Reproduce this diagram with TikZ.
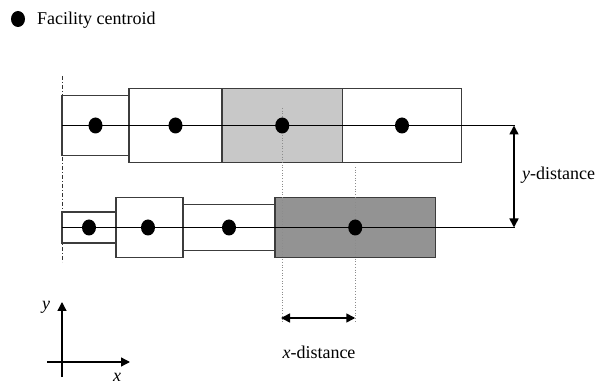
\documentclass[tikz,border=0pt]{standalone}
\usepackage{fontspec}
\setmainfont{Liberation Serif}
\usetikzlibrary{arrows.meta,shapes.geometric}
\definecolor{lightfill}{RGB}{200,200,200}
\definecolor{darkfill}{RGB}{147,147,147}
\definecolor{edge}{RGB}{60,60,60}
\begin{document}
\begin{tikzpicture}[x=1pt,y=-1pt,
  box/.style={draw=edge, line width=1.3pt, inner sep=0pt, outer sep=0pt, rectangle},
  dot/.style={ellipse, fill=black, inner sep=0pt, minimum width=14pt, minimum height=16pt},
  cline/.style={draw=black, line width=1.2pt},
  guide/.style={draw=black!45, line width=0.7pt, dotted},
  axisline/.style={dash pattern=on 4pt off 2pt on 1pt off 2pt, draw=black!80, line width=0.8pt},
  dimarrow/.style={draw=black, line width=1.6pt, {Triangle[length=9pt,width=9pt]}-{Triangle[length=9pt,width=9pt]}},
  ax/.style={draw=black, line width=1.3pt, -{Triangle[length=9pt,width=9pt]}},
  lbl/.style={font=\fontsize{18}{20}\selectfont, inner sep=0pt}
]
\useasboundingbox (0,0) rectangle (598,385);

% legend
\node[dot] (legdot) at (18,19) {};
\node[lbl, anchor=west] (legtxt) at (37,20) {Facility centroid};

% vertical reference line
\coordinate (reftop) at (62,76);
\coordinate (refbot) at (62,262);
\draw[axisline] (reftop) -- (refbot);

% top row boxes
\node[box, minimum width=67pt, minimum height=60pt] (A) at (95.5,125.5) {};
\node[box, minimum width=93pt, minimum height=74pt] (B) at (175.5,125.5) {};
\node[box, fill=lightfill, minimum width=120.5pt, minimum height=74pt] (C) at (282.25,125.5) {};
\node[box, minimum width=119pt, minimum height=74pt] (D) at (402,125.5) {};

% bottom row boxes
\node[box, minimum width=54pt, minimum height=31pt] (E) at (89,227.5) {};
\node[box, minimum width=67pt, minimum height=60pt] (F) at (149.5,227.5) {};
\node[box, minimum width=92pt, minimum height=46pt] (G) at (229,227.5) {};
\node[box, fill=darkfill, minimum width=160.5pt, minimum height=60pt] (H) at (355.25,227.5) {};

% dotted guides
\coordinate (g1top) at (282,108);
\coordinate (g1bot) at (282,322);
\coordinate (g2top) at (355.25,167);
\coordinate (g2bot) at (355.25,322);
\draw[guide] (g1top) -- (g1bot);
\draw[guide] (g2top) -- (g2bot);

% centre lines
\coordinate (topend) at (515,125.5);
\coordinate (botend) at (515,227.5);
\draw[cline] (A.west) -- (topend);
\draw[cline] (E.west) -- (botend);

% centroids
\node[dot] (dA) at (A.center) {};
\node[dot] (dB) at (B.center) {};
\node[dot] (dC) at (C.center) {};
\node[dot] (dD) at (D.center) {};
\node[dot] (dE) at (E.center) {};
\node[dot] (dF) at (148,227.5) {};
\node[dot] (dG) at (G.center) {};
\node[dot] (dH) at (H.center) {};

% y-distance
\coordinate (ya) at (514,125.5);
\coordinate (yb) at (514,227.5);
\draw[dimarrow] (ya) -- (yb);
\node[lbl, anchor=west] (ylbl) at (522,175) {\textit{y}-distance};

% x-distance
\coordinate (xa) at (281,318);
\coordinate (xb) at (355.25,318);
\draw[dimarrow] (xa) -- (xb);
\node[lbl] (xlbl) at (319,352) {\textit{x}-distance};

% axes
\coordinate (ytip) at (62,302);
\coordinate (ybase) at (62,377);
\coordinate (xtip) at (130,362);
\coordinate (xbase) at (47,362);
\draw[ax] (ybase) -- (ytip);
\draw[ax] (xbase) -- (xtip);
\node[lbl] (ylab) at (46,307) {\textit{y}};
\node[lbl] (xlab) at (117,377) {\textit{x}};
\end{tikzpicture}
\end{document}
